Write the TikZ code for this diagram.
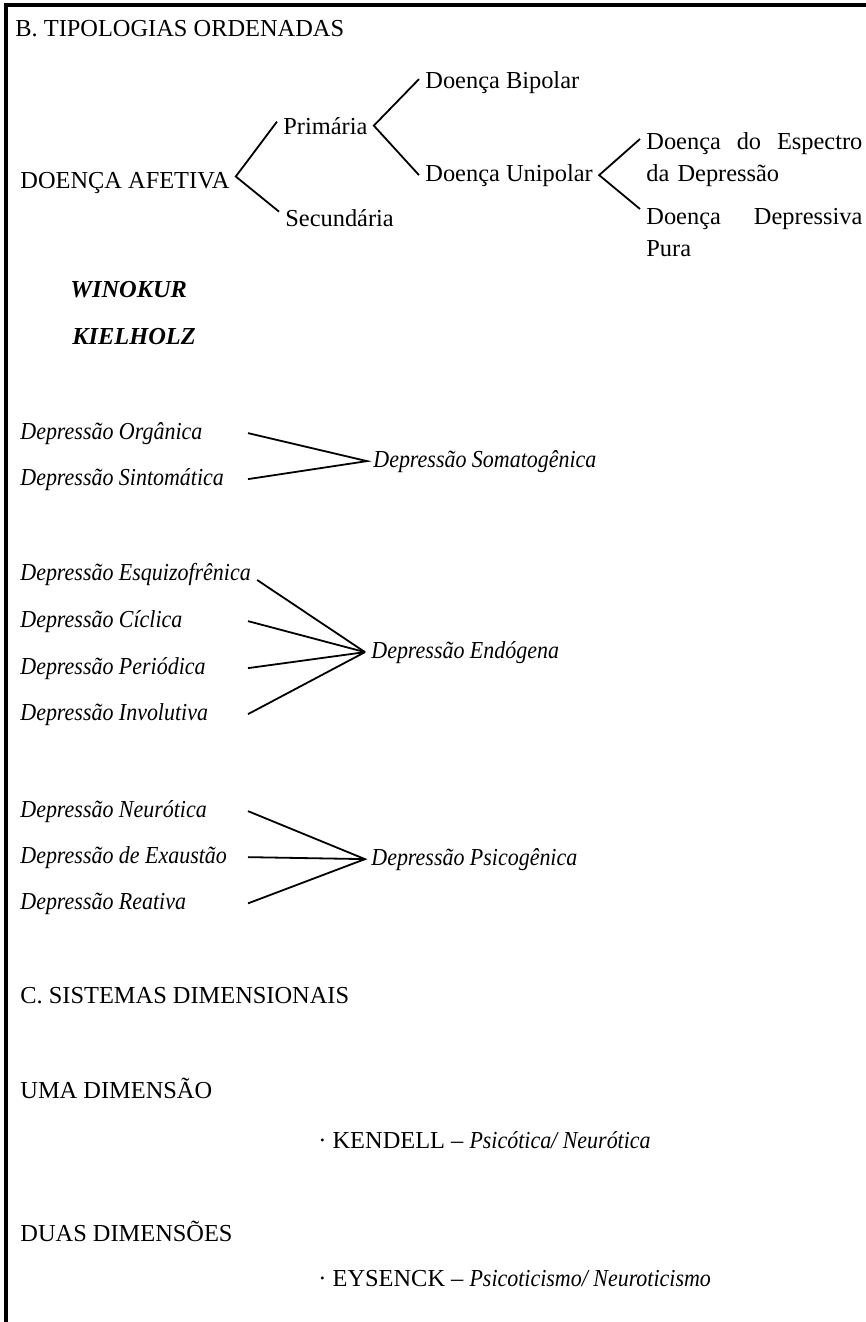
\documentclass[tikz,border=0pt]{standalone}
\usepackage{fontspec}
\setmainfont{Liberation Serif}[ItalicFeatures={FakeStretch=0.9}]
\newcommand\tamanho{\fontsize{12.2}{16}\selectfont}

\tikzset{
	txt/.style = {anchor=base west, inner sep=3pt, font=\tamanho},
	dep/.style = {txt, font=\tamanho\itshape},
	autor/.style = {txt, font=\tamanho\bfseries\itshape},
	ramo/.style = {line width=0.9pt}
}

\begin{document}
\begin{tikzpicture}[x=0.5pt, y=-0.5pt]
	\useasboundingbox (0,0) rectangle (866,1322);
	\draw[line width=1.6pt] (866,5) -- (6,5) -- (6,1322);
	
	\node[txt] (tipB) at (9,37) {B. TIPOLOGIAS ORDENADAS};
	
	\node[txt] (afetiva) at (14,188) {DOENÇA AFETIVA};
	\node[txt] (primaria) at (277,134) {Primária};
	\node[txt] (secundaria) at (279,226) {Secundária};
	\node[txt] (bipolar) at (419,89) {Doença Bipolar};
	\node[txt] (unipolar) at (419,181) {Doença Unipolar};
	\node[txt, text width=108pt] (espectro) at (640,149) {Doença\hfill do\hfill Espectro\\da Depressão};
	\node[txt, text width=108pt] (pura) at (640,224) {Doença\hfill Depressiva\\Pura};
	
	\draw[ramo] ([yshift=2pt]primaria.west) -- ([yshift=3pt]afetiva.east) -- ([yshift=3pt]secundaria.west);
	\draw[ramo] ([yshift=2pt]bipolar.west) -- (primaria.east) -- (unipolar.west);
	\draw[ramo] ([yshift=5pt]espectro.base west) -- (unipolar.east) -- ([yshift=7.5pt]pura.base west);
	
	\node[autor] (winokur) at (64,297) {WINOKUR};
	\node[autor] (kielholz) at (66,344) {KIELHOLZ};
	
	\coordinate (col) at (248,0);
	
	% somatogenica
	\node[dep] (organica) at (14,439) {Depressão Orgânica};
	\node[dep] (sintomatica) at (14,485) {Depressão Sintomática};
	\node[dep] (somato) at (367,467) {Depressão Somatogênica};
	\draw[ramo] (organica.east -| col) -- (somato.west) -- (sintomatica.east -| col);
	
	% endogena
	\node[dep] (esquizo) at (14,580) {Depressão Esquizofrênica};
	\node[dep] (ciclica) at (14,627) {Depressão Cíclica};
	\node[dep] (periodica) at (14,674) {Depressão Periódica};
	\node[dep] (involutiva) at (14,720) {Depressão Involutiva};
	\node[dep] (endogena) at (365,658) {Depressão Endógena};
	\draw[ramo] (esquizo.base east) -- (endogena.west);
	\draw[ramo] (ciclica.east -| col) -- (endogena.west);
	\draw[ramo] (periodica.east -| col) -- (endogena.west);
	\draw[ramo] (involutiva.east -| col) -- (endogena.west);
	
	% psicogenica
	\node[dep] (neurotica) at (14,817) {Depressão Neurótica};
	\node[dep] (exaustao) at (14,863) {Depressão de Exaustão};
	\node[dep] (reativa) at (14,909) {Depressão Reativa};
	\node[dep] (psico) at (365,865) {Depressão Psicogênica};
	\draw[ramo] (neurotica.east -| col) -- (psico.west) -- (reativa.east -| col);
	\draw[ramo] (exaustao.east -| col) -- (psico.west);
	
	\node[txt] (tipC) at (14,1003) {C. SISTEMAS DIMENSIONAIS};
	\node[txt] (uma) at (14,1098) {UMA DIMENSÃO};
	\node[txt] (kendell) at (312,1148) {· KENDELL – \textit{Psicótica/ Neurótica}};
	\node[txt] (duas) at (14,1241) {DUAS DIMENSÕES};
	\node[txt] (eysenck) at (312,1286) {· EYSENCK – \textit{Psicoticismo/ Neuroticismo}};
\end{tikzpicture}
\end{document}
